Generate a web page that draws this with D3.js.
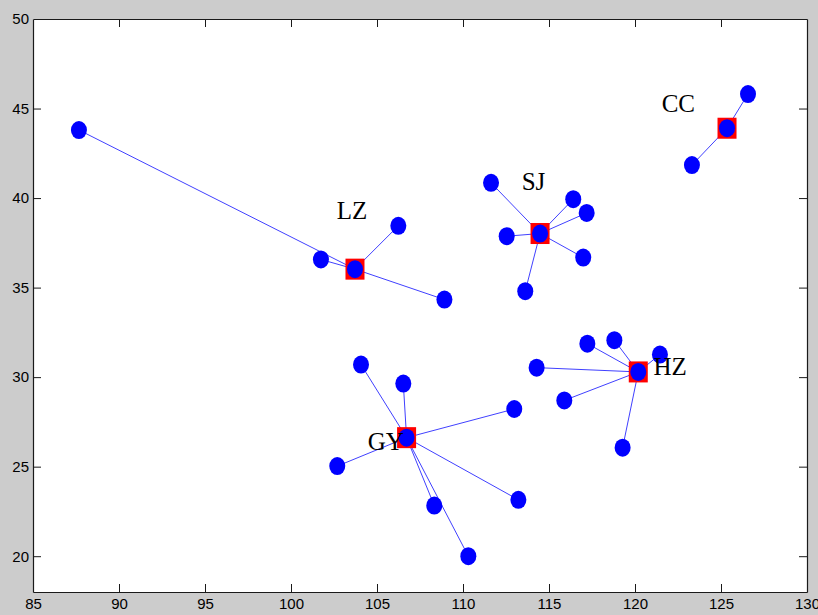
<!DOCTYPE html>
<html>
<head>
<meta charset="utf-8">
<script src="https://cdn.jsdelivr.net/npm/d3@7"></script>
<style>
  html, body { margin: 0; padding: 0; background: #cccccc; }
  svg { display: block; }
</style>
</head>
<body>
<svg id="chart" width="818" height="615"></svg>
<script>
// Cluster centres (red squares)
const centerNames = ["CC", "SJ", "LZ", "HZ", "GY"];
const centerX = [125.35, 114.48, 103.72, 120.19, 106.72];
const centerY = [43.90, 38.02, 36.03, 30.29, 26.62];

// Member points per cluster (index into centerNames)
const memberCluster = [0, 0,
                       1, 1, 1, 1, 1, 1,
                       2, 2, 2, 2,
                       3, 3, 3, 3, 3, 3,
                       4, 4, 4, 4, 4, 4, 4];
const memberX = [126.57, 123.31,
                 111.63, 116.41, 117.19, 112.54, 116.99, 113.62,
                 101.74, 106.24, 108.92, 87.67,
                 117.23, 118.80, 121.45, 114.28, 115.89, 119.28,
                 104.07, 106.53, 112.98, 102.69, 108.33, 113.22, 110.31];
const memberY = [45.81, 41.84,
                 40.85, 39.94, 39.17, 37.87, 36.68, 34.80,
                 36.57, 38.45, 34.33, 43.80,
                 31.87, 32.06, 31.26, 30.53, 28.70, 26.06,
                 30.70, 29.64, 28.22, 25.03, 22.83, 23.15, 20.00];

// Label anchor positions (text baseline, left edge)
const labelX = [121.55, 113.41, 102.66, 121.07, 104.46];
const labelY = [44.78, 40.44, 38.82, 30.10, 25.91];

const xTicks = [85, 90, 95, 100, 105, 110, 115, 120, 125, 130];
const yTicks = [20, 25, 30, 35, 40, 45, 50];

const svg = d3.select("#chart");
const plotLeft = 33, plotRight = 807, plotTop = 19, plotBottom = 592;

const x = d3.scaleLinear().domain([85, 130]).range([plotLeft, plotRight]);
const y = d3.scaleLinear().domain([18, 50]).range([plotBottom, plotTop]);

// Plot area
svg.append("rect")
  .attr("x", plotLeft).attr("y", plotTop)
  .attr("width", plotRight - plotLeft).attr("height", plotBottom - plotTop)
  .attr("fill", "#ffffff");

// Axes (ticks pointing inward on all four sides)
const tickLen = 8;
const axisColor = "#1a1a1a";
function styleAxis(g) {
  g.selectAll("path.domain").attr("stroke", axisColor).attr("stroke-width", 1.2);
  g.selectAll(".tick line").attr("stroke", axisColor);
  g.selectAll(".tick text")
    .attr("fill", "#000")
    .style("font-family", "Arial, 'Liberation Sans', sans-serif")
    .style("font-size", "15px");
}

svg.append("g").attr("transform", `translate(0,${plotBottom})`)
  .call(d3.axisBottom(x).tickValues(xTicks).tickSize(-tickLen).tickPadding(6).tickSizeOuter(0))
  .call(styleAxis);
svg.append("g").attr("transform", `translate(0,${plotTop})`)
  .call(d3.axisTop(x).tickValues(xTicks).tickSize(-tickLen).tickFormat("").tickSizeOuter(0))
  .call(styleAxis);
svg.append("g").attr("transform", `translate(${plotLeft},0)`)
  .call(d3.axisLeft(y).tickValues(yTicks).tickSize(-tickLen).tickPadding(4).tickSizeOuter(0))
  .call(styleAxis);
svg.append("g").attr("transform", `translate(${plotRight},0)`)
  .call(d3.axisRight(y).tickValues(yTicks).tickSize(-tickLen).tickFormat("").tickSizeOuter(0))
  .call(styleAxis);

// Remove tick marks that coincide with the box corners
svg.selectAll(".tick").filter(d => d === 85 || d === 130 || d === 50)
  .select("line").remove();

const members = memberX.map((mx, i) => ({ x: mx, y: memberY[i], c: memberCluster[i] }));
const centers = centerNames.map((n, i) => ({ name: n, x: centerX[i], y: centerY[i], lx: labelX[i], ly: labelY[i] }));

// Links from each member to its centre
svg.append("g")
  .selectAll("line")
  .data(members)
  .join("line")
  .attr("x1", d => x(d.x)).attr("y1", d => y(d.y))
  .attr("x2", d => x(centers[d.c].x)).attr("y2", d => y(centers[d.c].y))
  .attr("stroke", "#0000ff")
  .attr("stroke-opacity", 0.75)
  .attr("stroke-width", 1);

// Centre squares
const sqW = 19, sqH = 21;
svg.append("g")
  .selectAll("rect")
  .data(centers)
  .join("rect")
  .attr("x", d => x(d.x) - sqW / 2).attr("y", d => y(d.y) - sqH / 2)
  .attr("width", sqW).attr("height", sqH)
  .attr("fill", "#ff0000");

// Points (members and centres)
const pts = members.concat(centers.map(c => ({ x: c.x, y: c.y })));
svg.append("g")
  .selectAll("ellipse")
  .data(pts)
  .join("ellipse")
  .attr("cx", d => x(d.x)).attr("cy", d => y(d.y))
  .attr("rx", 8).attr("ry", 9)
  .attr("fill", "#0000ff");

// Cluster labels
svg.append("g")
  .selectAll("text")
  .data(centers)
  .join("text")
  .attr("x", d => x(d.lx)).attr("y", d => y(d.ly))
  .text(d => d.name)
  .attr("fill", "#000")
  .style("font-family", "'Liberation Serif', 'Times New Roman', serif")
  .style("font-size", "25px");
</script>
</body>
</html>
